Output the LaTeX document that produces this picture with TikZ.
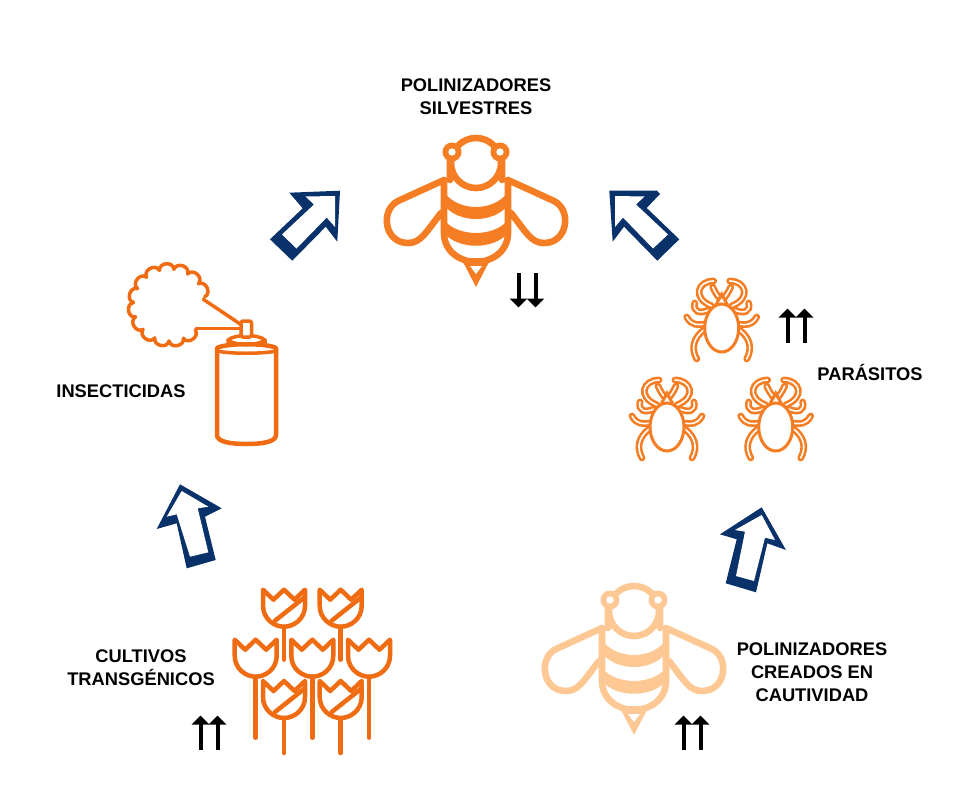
\documentclass[tikz,border=0pt]{standalone}
\usepackage{fontspec}
\setmainfont{Liberation Sans}
\usepackage{xcolor}
\usepackage{tikz}
\usetikzlibrary{arrows.meta}
\definecolor{accent}{RGB}{245,125,35}
\definecolor{accent2}{RGB}{240,108,18}
\definecolor{light}{RGB}{253,200,148}
\definecolor{navy}{RGB}{8,50,105}
\tikzset{
  pics/bee/.style={code={
    \draw[#1, line width=6.6pt, line join=round, line cap=round]
      (32,-40) -- (78,-19) .. controls (96,-10) and (92,23) .. (68,23) .. controls (55,23) and (50,12) .. (35,-7)
      (-32,-40) -- (-78,-19) .. controls (-96,-10) and (-92,23) .. (-68,23) .. controls (-55,23) and (-50,12) .. (-35,-7)
      (0,-57) circle (25)
      (-26,-60) -- (-26,-40) (26,-60) -- (26,-40)
      (-32,-40) -- (-32,13) .. controls (-32,32) and (-15,42) .. (0,42) .. controls (15,42) and (32,32) .. (32,13) -- (32,-40);
    \fill[#1] (-32,-28) .. controls (-18,-8) and (18,-8) .. (32,-28) -- (32,-15) .. controls (18,3.7) and (-18,3.7) .. (-32,-15) -- cycle
      (-32,0) .. controls (-18,17.3) and (18,17.3) .. (32,0) -- (32,13) .. controls (18,30) and (-18,30) .. (-32,13) -- cycle
      (-15,38) -- (15,38) -- (0,67) -- cycle;
    \fill[white] (-6,46) -- (6,46) -- (0,54) -- cycle;
    \fill[#1] (-24,-68) circle (9.5) (24,-68) circle (9.5);
    \fill[white] (-24,-68) circle (3.7) (24,-68) circle (3.7);
  }},
  pics/tick/.style={code={
    \foreach \s in {1,-1} {
      \draw[tube, xscale=\s] (18,2) .. controls (28,10) and (31,20) .. (25,31);
      \draw[tube, xscale=\s] (16,-4) .. controls (24,-3) and (30,-2) .. (35,-11);
      \draw[tube, xscale=\s] (27,-25) .. controls (29,-16) and (22,-14) .. (13,-18);
      \draw[tube, xscale=\s] (8,-47) .. controls (24,-47) and (30,-30) .. (10,-22);
      \draw[tube, xscale=\s] (9,-41) .. controls (7,-36) and (4,-32) .. (1,-28);
    }
    \fill[accent] (0,-37) -- (7,-24) -- (-7,-24) -- cycle;
    \fill[white] (0,-30) -- (3,-25) -- (-3,-25) -- cycle;
    \draw[accent, line width=3pt, fill=white] (0,0) ellipse (17 and 24);
  }},
  pics/tulip/.style={code={
    \draw[tlp] (-21,-37) -- (-10.5,-27) -- (0,-37) -- (10.5,-27) -- (21,-37) -- (21,-21)
      .. controls (21,-8) and (10,0) .. (0,0) .. controls (-10,0) and (-21,-8) .. (-21,-21) -- cycle;
    \draw[tlp] (0,0) -- (0,#1);
  }},
  pics/tulipd/.style={code={
    \pic {tulip=#1};
    \draw[tlp] (-9,-6) -- (20,-29);
  }},
  pics/twoup/.style={code={
    \draw[a] (-8.5,17) -- (-8.5,-17.5);
    \draw[a] (8.5,17) -- (8.5,-17.5);
  }}
}
\begin{document}
\begin{tikzpicture}[x=1pt, y=-1pt,
  lbl/.style={font=\bfseries\fontsize{18.3}{23}\selectfont, align=center, text=black, inner sep=0pt},
  tube/.style={accent, line width=2.6pt, double=white, double distance=1.6pt, line cap=round},
  tlp/.style={accent2, line width=4.5pt, line cap=round, line join=round},
  can/.style={accent2, line width=4.5pt, line cap=round, line join=round},
  spr/.style={accent2, line width=3.5pt, line cap=round, line join=round},
  a/.style={-{Triangle[length=9pt, width=17pt]}, line width=4pt}]
  \useasboundingbox (0,0) rectangle (971,784);

  \fill[navy] (340,190.7) -- (289.3,192.7) -- (302.7,208.3) -- (270,239.3) -- (292.3,260.7) -- (325.7,226.7) -- (337.3,241.7) -- cycle;
  \fill[white] (305.5,196.5) -- (335,196) -- (335,227) -- (326.7,217.5) -- (296.5,248.5) -- (282,234.5) -- (314,204.5) -- cycle;
  \fill[navy] (609.3,190.7) -- (657,190.7) -- (660,194) -- (646.7,208) -- (679.3,239.3) -- (657.3,260.7) -- (624,226.7) -- (612.7,241.7) -- cycle;
  \fill[white] (615,196) -- (644.5,196.5) -- (636,204.5) -- (668,234.5) -- (653,248.5) -- (623,217.5) -- (615,227) -- cycle;
  \fill[navy] (180,484.3) -- (221.7,508.3) -- (205,516.7) -- (215.7,560) -- (186.7,568.3) -- (176.7,523.3) -- (156.7,529) -- cycle;
  \fill[white] (181.7,491) -- (208.3,506.7) -- (197.7,508.3) -- (208.3,552.3) -- (190,556.7) -- (176.7,514.3) -- (166.7,516.7) -- cycle;
  \fill[navy] (761.7,507.3) -- (786,550) -- (767.3,543.3) -- (756,592.3) -- (725.7,583.3) -- (736.7,539.3) -- (720,534.3) -- cycle;
  \fill[white] (761.7,515) -- (775,540) -- (765,537.7) -- (754,581) -- (736,576) -- (745,531.7) -- (735,530) -- cycle;

  \pic at (476,220) {bee=accent};
  \pic at (634,668) {bee=light};

  \pic at (721.7,328) {tick};
  \pic at (667,427) {tick};
  \pic at (775.7,427) {tick};

  \foreach \a in {0,...,12} {
    \pgfmathsetmacro{\p}{-(13+23.3*\a)}
    \pgfmathsetmacro{\q}{\p-23.3}
    \pgfmathsetmacro{\u}{\p-2.3}
    \pgfmathsetmacro{\v}{\q+2.3}
    \draw[spr, shift={(169.5,305)}] (\p:36) .. controls (\u:44) and (\v:44) .. (\q:36);
  }
  \draw[spr] (203.3,299.3) -- (241.7,325);
  \draw[spr] (196,328.3) -- (241,328.3);
  \draw[can] (217,348) .. controls (225,343) and (268,343) .. (276,348) -- (276,435)
    .. controls (276,442) and (262,444) .. (246.5,444) .. controls (231,444) and (217,442) .. (217,435) -- cycle;
  \draw[spr] (217,351) .. controls (230,354) and (263,354) .. (276,351);
  \draw[spr] (228,345) -- (228,340) .. controls (235,334) and (258,334) .. (265,340) -- (265,345);
  \draw[spr] (228,340) .. controls (235,346) and (258,346) .. (265,340);
  \draw[spr, fill=white, rounded corners=2pt] (241,321) rectangle (251.5,337);

  \pic at (255.7,676.7) {tulip=61};
  \pic at (312.3,676.7) {tulip=61};
  \pic at (369,676.7) {tulip=61};
  \pic at (284,626.7) {tulipd=33};
  \pic at (340.7,626.7) {tulipd=33};
  \pic at (284,718) {tulipd=35};
  \pic at (340.7,718) {tulipd=35};

  \pic[rotate=180] at (527,290) {twoup};
  \pic at (796,326) {twoup};
  \pic at (209,733) {twoup};
  \pic at (692,733) {twoup};

  \node[lbl] (silv) at (476,97) {POLINIZADORES\\SILVESTRES};
  \node[lbl] (insec) at (121,391) {INSECTICIDAS};
  \node[lbl] (paras) at (870,372) {PARÁSITOS};
  \node[lbl] (cult) at (141,668) {CULTIVOS\\TRANSGÉNICOS};
  \node[lbl] (creados) at (812,672) {POLINIZADORES\\CREADOS EN\\CAUTIVIDAD};
\end{tikzpicture}
\end{document}
